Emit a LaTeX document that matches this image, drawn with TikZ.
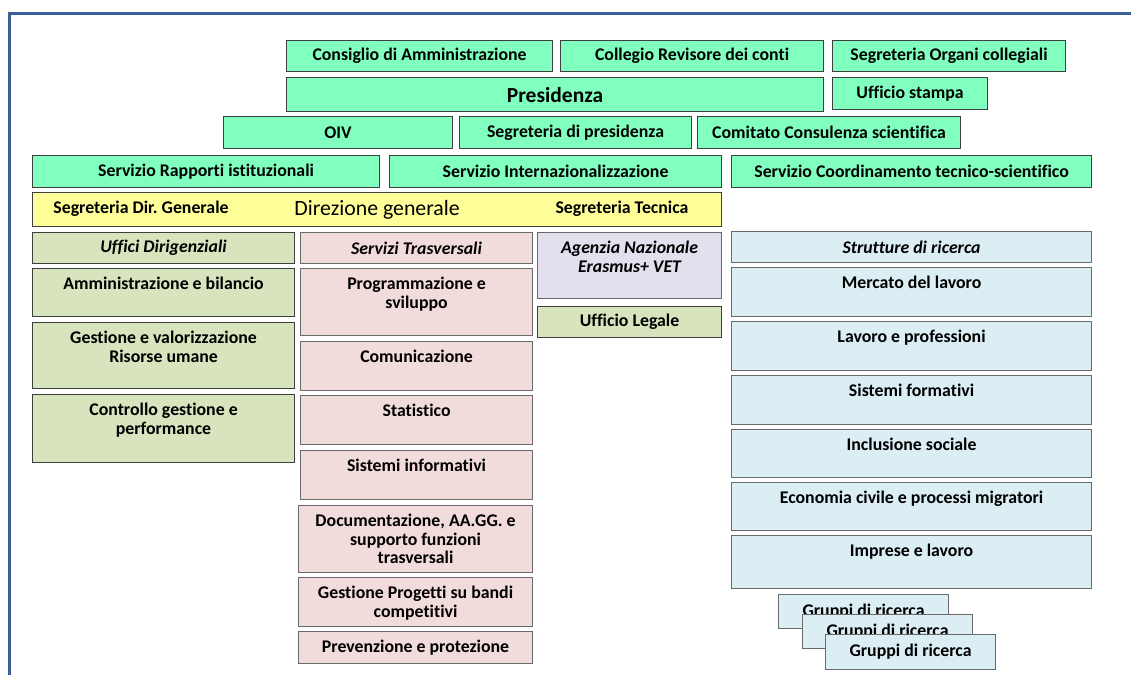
\documentclass[tikz,border=0pt]{standalone}
\usepackage{fontspec}
\setmainfont{Carlito}[Ligatures=NoCommon]
\usetikzlibrary{calc}
\frenchspacing
\definecolor{mint}{HTML}{80FFBF}
\definecolor{yel}{HTML}{FFFF99}
\definecolor{olive}{HTML}{D7E4BD}
\definecolor{rose}{HTML}{F2DCDB}
\definecolor{lav}{HTML}{E4DFEC}
\definecolor{sky}{HTML}{DBEEF4}
\definecolor{bdark}{HTML}{3F3F3F}
\definecolor{bgray}{HTML}{6A6A6A}
\definecolor{framec}{HTML}{3B5E97}
\newcommand\nfont{\bfseries\fontsize{17.8}{18.5}\selectfont}
\tikzset{
  base/.style={draw, line width=1.1pt, inner sep=0pt, align=center, font=\nfont},
  mintbox/.style={base, fill=mint, draw=bdark},
  yelbox/.style={base, fill=yel, draw=bdark},
  olbox/.style={base, fill=olive, draw=bdark},
  rosebox/.style={base, fill=rose, draw=bgray},
  lavbox/.style={base, fill=lav, draw=bgray},
  skybox/.style={base, fill=sky, draw=bgray},
  txt/.style={inner sep=0pt, align=center, font=\nfont},
  framel/.style={draw=framec, line width=3pt}
}
% centred box: name, style, x1, y1, x2, y2, text
\newcommand\cbox[7]{\node[#2, anchor=north west, minimum width={(#5-#3)*1pt}, minimum height={(#6-#4)*1pt}] (#1) at (#3,#4) {#7};}
% top-aligned text box: name, style, x1, y1, x2, y2, pad, text
\newcommand\tbox[8]{\node[#2, anchor=north west, minimum width={(#5-#3)*1pt}, minimum height={(#6-#4)*1pt}] (#1) at (#3,#4) {};
  \node[txt, anchor=north] (#1-t) at ([yshift=-#7pt]#1.north) {#8};}
\begin{document}
\begin{tikzpicture}[x=1pt, y=-1pt]
\useasboundingbox (0,0) rectangle (1131,675);
\draw[framel] (9.5,675) -- (9.5,13) -- (1131,13);
% top rows
\cbox{cda}{mintbox}{286}{40}{552}{71}{Consiglio di Amministrazione}
\cbox{crc}{mintbox}{560}{40}{823}{71}{Collegio Revisore dei conti}
\cbox{soc}{mintbox}{832}{40}{1065}{71}{Segreteria Organi collegiali}
\cbox{pres}{mintbox, font=\bfseries\fontsize{21.5}{23}\selectfont}{286}{77}{823}{111}{Presidenza}
\cbox{ust}{mintbox}{832}{77}{987}{109}{Ufficio stampa}
\cbox{oiv}{mintbox}{223}{116}{452}{148}{OIV}
\cbox{sdp}{mintbox}{459}{116}{691}{148}{Segreteria di presidenza}
\cbox{ccs}{mintbox}{697}{116}{960}{148}{Comitato Consulenza scientifica}
\cbox{sri}{mintbox}{32}{155}{379}{187}{Servizio Rapporti istituzionali}
\cbox{sin}{mintbox}{389}{155}{721}{187}{Servizio Internazionalizzazione}
\cbox{sct}{mintbox}{731}{155}{1091}{187}{Servizio Coordinamento tecnico-scientifico}
% direzione generale
\cbox{dg}{yelbox, font=\fontsize{21.8}{23}\selectfont}{32}{192}{721}{226}{Direzione generale}
\node[txt] (sdg) at (141,209) {Segreteria Dir.\ Generale};
\node[txt] (stec) at (622,209) {Segreteria Tecnica};
% uffici dirigenziali
\cbox{ud}{olbox}{32}{232}{294}{263}{\itshape Uffici Dirigenziali}
\tbox{amm}{olbox}{32}{268}{294}{316}{9}{Amministrazione e bilancio}
\tbox{gvr}{olbox}{32}{322}{294}{388}{9}{Gestione e valorizzazione\\Risorse umane}
\tbox{cgp}{olbox}{32}{394}{294}{462}{9}{Controllo gestione e\\performance}
% servizi trasversali
\cbox{st}{rosebox}{300}{232}{532}{263}{\itshape Servizi Trasversali}
\tbox{prs}{rosebox}{300}{268}{532}{335}{9}{Programmazione e\\sviluppo}
\tbox{com}{rosebox}{300}{341}{532}{390}{9}{Comunicazione}
\tbox{sta}{rosebox}{300}{395}{532}{444}{9}{Statistico}
\tbox{sif}{rosebox}{300}{450}{532}{499}{9}{Sistemi informativi}
\tbox{doc}{rosebox}{298}{505}{532}{572}{9}{Documentazione, AA.GG. e\\supporto funzioni\\trasversali}
\tbox{gpb}{rosebox}{298}{577}{532}{626}{9}{Gestione Progetti su bandi\\competitivi}
\cbox{pep}{rosebox}{298}{631}{532}{663}{Prevenzione e protezione}
% agenzia, legale
\tbox{ane}{lavbox}{537}{232}{721}{298}{9}{\itshape Agenzia Nazionale\\\itshape Erasmus+ VET}
\cbox{ule}{olbox}{537}{306}{721}{337}{Ufficio Legale}
% strutture di ricerca
\cbox{sdr}{skybox}{731}{231}{1091}{262}{\itshape Strutture di ricerca}
\tbox{mdl}{skybox}{731}{267}{1091}{316}{9}{Mercato del lavoro}
\tbox{lep}{skybox}{731}{321}{1091}{370}{9}{Lavoro e professioni}
\tbox{sfo}{skybox}{731}{375}{1091}{424}{9}{Sistemi formativi}
\tbox{ins}{skybox}{731}{429}{1091}{477}{9}{Inclusione sociale}
\tbox{ecm}{skybox}{731}{482}{1091}{530}{9}{Economia civile e processi migratori}
\tbox{iel}{skybox}{731}{535}{1091}{588}{9}{Imprese e lavoro}
% gruppi di ricerca
\cbox{gr1}{skybox}{778}{594}{948}{628}{Gruppi di ricerca}
\cbox{gr2}{skybox}{802}{614}{972}{648}{Gruppi di ricerca}
\cbox{gr3}{skybox}{825}{634}{995}{669}{Gruppi di ricerca}
\end{tikzpicture}
\end{document}
